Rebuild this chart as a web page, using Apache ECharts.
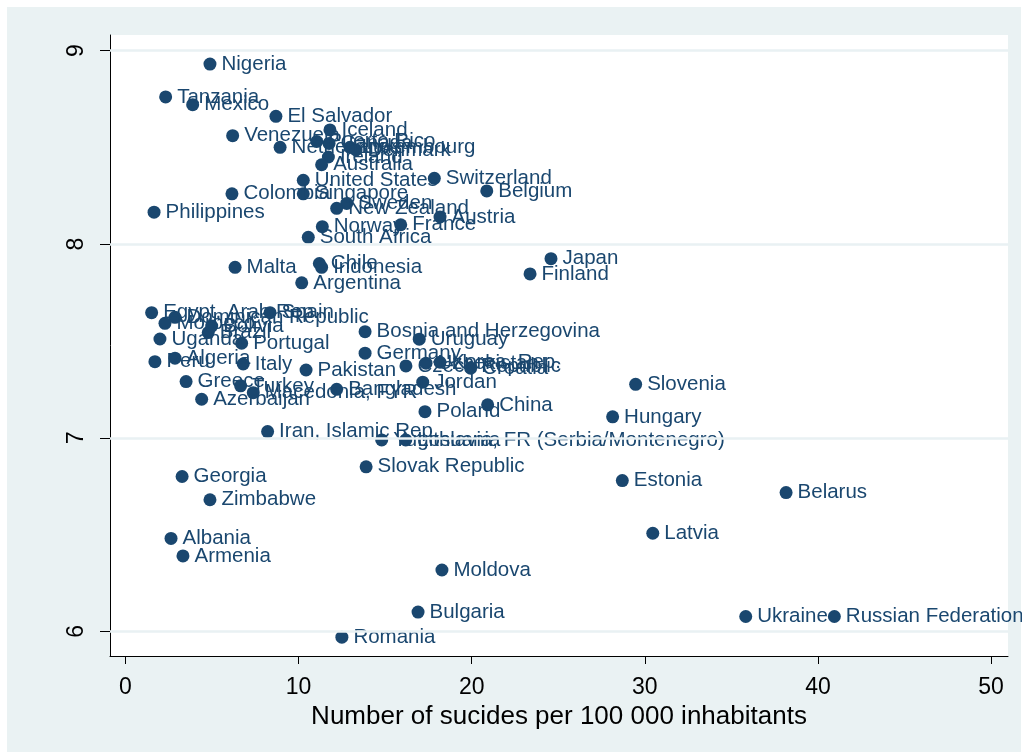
<!DOCTYPE html>
<html>
<head>
<meta charset="utf-8">
<script src="https://cdn.jsdelivr.net/npm/echarts@6/dist/echarts.min.js"></script>
<style>
  html, body { margin: 0; padding: 0; background: #fff; }
  #chart { width: 1022px; height: 753px; }
</style>
</head>
<body>
<div id="chart"></div>
<script>
// countries, suicides per 100 000 and life satisfaction
const countries = [
  'Nigeria', 'Tanzania', 'Mexico', 'El Salvador', 'Venezuela', 'Netherlands', 'Iceland',
  'Puerto Rico', 'Canada', 'Luxembourg', 'Denmark', 'Ireland', 'Australia',
  'United States', 'Switzerland', 'Belgium', 'Colombia', 'Singapore', 'Philippines',
  'Sweden', 'New Zealand', 'Austria', 'Norway', 'France', 'South Africa',
  'Malta', 'Chile', 'Indonesia', 'Argentina', 'Japan', 'Finland',
  'Egypt, Arab Rep.', 'Spain', 'Dominican Republic', 'Morocco', 'Brazil', 'Bolivia',
  'Uganda', 'Portugal', 'Bosnia and Herzegovina', 'Uruguay', 'Germany',
  'Algeria', 'Peru', 'Italy', 'Pakistan', 'Czech Republic', 'Uzbekistan', 'Korea, Rep.', 'Croatia',
  'Greece', 'Turkey', 'Macedonia, FYR', 'Azerbaijan', 'Bangladesh', 'Jordan', 'China', 'Poland',
  'Slovenia', 'Hungary', 'Iran, Islamic Rep.', 'Yugoslavia, FR (Serbia/Montenegro)', 'Lithuania',
  'Slovak Republic', 'Georgia', 'Zimbabwe', 'Estonia', 'Belarus', 'Latvia',
  'Albania', 'Armenia', 'Moldova', 'Bulgaria', 'Romania', 'Ukraine', 'Russian Federation'
];
const suicides = [
  4.88, 2.32, 3.88, 8.69, 6.19, 8.93, 11.81,
  11.05, 11.76, 12.97, 13.32, 11.72, 11.33,
  10.27, 17.84, 20.87, 6.15, 10.27, 1.65,
  12.78, 12.2, 18.17, 11.37, 15.9, 10.56,
  6.33, 11.2, 11.33, 10.18, 24.58, 23.37,
  1.51, 8.35, 2.86, 2.28, 4.78, 4.98,
  1.99, 6.71, 13.84, 16.97, 13.84,
  2.86, 1.7, 6.8, 10.43, 16.2, 17.36, 18.17, 19.94,
  3.5, 6.65, 7.38, 4.4, 12.2, 17.17, 20.92, 17.3,
  29.47, 28.14, 8.21, 14.8, 16.19,
  13.9, 3.27, 4.88, 28.7, 38.16, 30.46,
  2.63, 3.32, 18.28, 16.9, 12.5, 35.83, 40.95
];
const lifeSat = [
  8.93, 8.76, 8.72, 8.66, 8.56, 8.50, 8.59,
  8.53, 8.52, 8.50, 8.486, 8.45, 8.41,
  8.33, 8.34, 8.275, 8.26, 8.26, 8.165,
  8.21, 8.185, 8.14, 8.09, 8.10, 8.035,
  7.88, 7.90, 7.88, 7.80, 7.925, 7.846,
  7.646, 7.646, 7.622, 7.591, 7.543, 7.577,
  7.51, 7.488, 7.548, 7.509, 7.437,
  7.411, 7.393, 7.381, 7.35, 7.371, 7.385, 7.39, 7.359,
  7.29, 7.268, 7.233, 7.199, 7.25, 7.287, 7.17, 7.135,
  7.276, 7.108, 7.032, 6.989, 6.989,
  6.85, 6.80, 6.68, 6.779, 6.717, 6.507,
  6.48, 6.39, 6.317, 6.10, 5.97, 6.077, 6.077
];
const xTicks = [0, 10, 20, 30, 40, 50];
const yTicks = [6, 7, 8, 9];

const navy = '#1a476f';
const font = '"Liberation Sans", Arial, Helvetica, sans-serif';

const chart = echarts.init(document.getElementById('chart'), null, { renderer: 'canvas' });

const points = countries.map((name, i) => ({ name, value: [suicides[i], lifeSat[i]] }));

chart.setOption({
  animation: false,
  backgroundColor: '#ffffff',
  textStyle: { fontFamily: font },
  graphic: [{
    type: 'rect',
    z: -10,
    silent: true,
    shape: { x: 7, y: 7, width: 1014, height: 745 },
    style: { fill: '#eaf2f3' }
  }],
  grid: {
    left: 110, right: 14, top: 35, bottom: 97,
    show: true, backgroundColor: '#ffffff', borderWidth: 0
  },
  xAxis: {
    type: 'value',
    min: -0.895,
    max: 50.98,
    name: 'Number of sucides per 100 000 inhabitants',
    nameLocation: 'middle',
    nameGap: 47,
    nameTextStyle: { color: '#000', fontSize: 26, fontFamily: font },
    axisLine: { show: true, onZero: false, lineStyle: { color: '#000', width: 1 } },
    axisTick: { show: true, length: 8, customValues: xTicks, lineStyle: { color: '#000' } },
    axisLabel: { customValues: xTicks, color: '#000', fontSize: 23, margin: 20, fontFamily: font },
    splitLine: { show: false }
  },
  yAxis: {
    type: 'value',
    min: 5.873,
    max: 9.08,
    axisLine: { show: true, onZero: false, lineStyle: { color: '#000', width: 1 } },
    axisTick: { show: true, length: 10, customValues: yTicks, lineStyle: { color: '#000' } },
    axisLabel: { customValues: yTicks, rotate: 90, color: '#000', fontSize: 23, margin: 22, fontFamily: font },
    splitLine: { show: false }
  },
  series: [
    {
      // horizontal grid lines at the y ticks
      type: 'line',
      data: [],
      z: 1,
      silent: true,
      markLine: {
        silent: true,
        symbol: 'none',
        label: { show: false },
        lineStyle: { color: '#e9f1f3', width: 2.5, type: 'solid' },
        data: yTicks.map(v => ({ yAxis: v }))
      }
    },
    {
      type: 'scatter',
      z: 3,
      data: points,
      symbol: 'circle',
      symbolSize: 13,
      itemStyle: { color: navy, opacity: 1 },
      label: {
        show: true,
        position: 'right',
        distance: 5,
        formatter: p => p.name,
        color: navy,
        fontSize: 20.5,
        fontFamily: font
      }
    }
  ]
});
</script>
</body>
</html>
